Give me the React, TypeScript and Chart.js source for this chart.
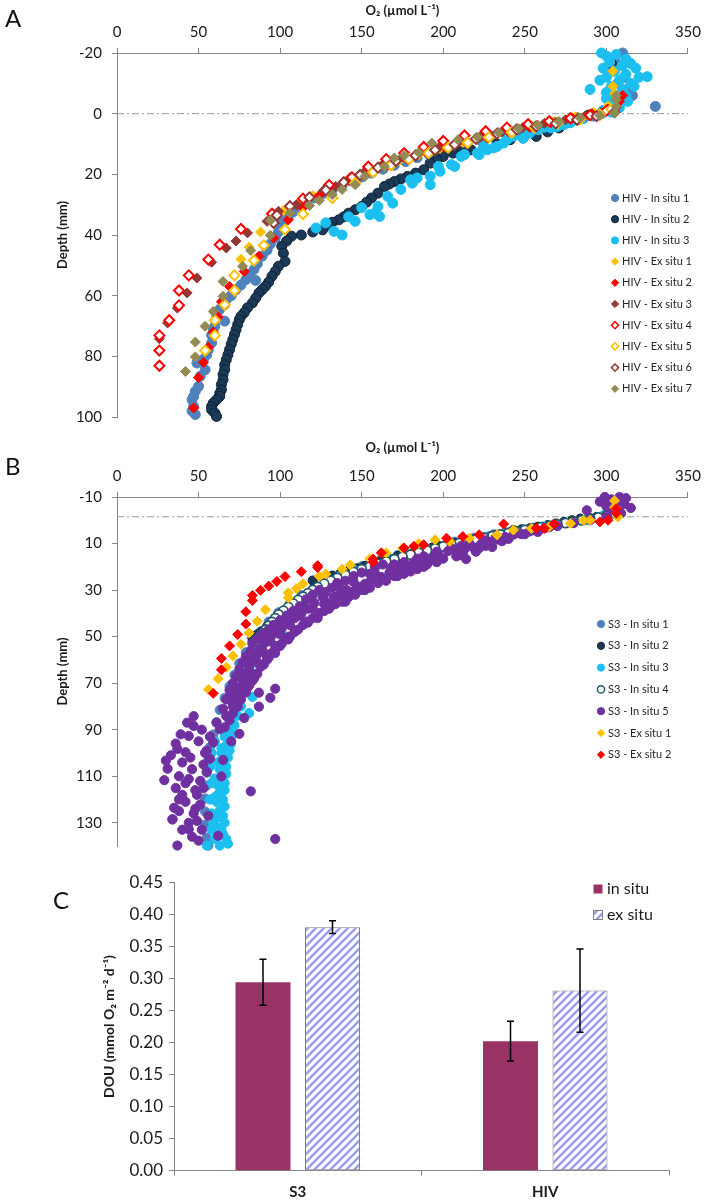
import React, { useEffect, useRef } from 'react';
import { Chart, registerables } from 'chart.js';

Chart.register(...registerables);

type P = [number, number];

// ---------- tick labels ----------
const o2Ticks = [0, 50, 100, 150, 200, 250, 300, 350];
const depthTicksA = [-20, 0, 20, 40, 60, 80, 100];
const depthTicksB = [-10, 10, 30, 50, 70, 90, 110, 130];
const douTicks = [0, 0.05, 0.1, 0.15, 0.2, 0.25, 0.3, 0.35, 0.4, 0.45];
const surfaceLineA = 0;
const surfaceLineB = -1.5;

// ---------- Panel A : HIV profiles [O2, depth] ----------
const hivNames = ['HIV - In situ 1', 'HIV - In situ 2', 'HIV - In situ 3', 'HIV - Ex situ 1', 'HIV - Ex situ 2', 'HIV - Ex situ 3', 'HIV - Ex situ 4', 'HIV - Ex situ 5', 'HIV - Ex situ 6', 'HIV - Ex situ 7'];

const hivInSitu1: P[] = [[310,-20],[305,-18],[309,-16],[304,-14],[311,-12],[307,-10],[313,-8],[316,-6],[306,-5],[330,-2.4],[302,-2],[297,0],[292,0.8],[286,1.5],[278,2.2],[270,3],[262,3.8],[254,4.6],[246,5.5],[238,6.5],[230,7.5],[222,8.6],[214,9.7],[206,10.9],[198,12.1],[191,13.3],[184,14.5],[177,15.8],[170,17],[163,18.3],[156,19.6],[150,20.9],[144,22.2],[138,23.6],[132,25],[126,26.4],[121,27.8],[116,29.3],[112,30.8],[108,32.4],[105,34],[102,35.6],[100,37.2],[99,39],[97,41],[94,43],[92,45],[89,47],[86,49.5],[84,51.4],[81,53],[79,54.7],[85,55],[76,56.5],[73,58],[70,60],[67,61.3],[66,63],[63,64.5],[61,66.3],[66,68.4],[60,70],[59,71.2],[58,73],[58,75.6],[56,77.8],[55,79.5],[53,81],[49,82.2],[54,84.4],[51,86.6],[50,89.9],[48,91.5],[47,93.2],[46,94.3],[47,96.5],[46,98],[48,99.2]];
const hivInSitu2: P[] = [[303,-16.6],[298,-1],[289,0.5],[282,1.4],[276,3],[271,4.7],[264,6],[257,7.5],[249,8],[241,8.6],[233,10],[225,11],[217,11.9],[211,12.5],[206,13],[200,14.1],[196,15.2],[192,16.3],[188,18.5],[183,19.6],[178,20.7],[174,21.5],[170,22.4],[167,23.2],[164,24],[160,26.2],[156,27.8],[153,29.2],[150,30.6],[146,31.7],[142,32.8],[139,34],[136,35],[132,35.8],[130,36.7],[126,38.3],[120,39],[113,40],[107,40.4],[104,42],[101,43.7],[102,46],[103,48.7],[99,50.3],[97,52],[95,53.6],[93,55.5],[91,56.9],[89,58],[87,59.1],[85,60.8],[83,62.4],[80,64],[78,65.6],[76,66.8],[75,67.9],[74,69.5],[73,71.2],[72,72.8],[71,74.5],[70,76],[69,77.8],[68,79.5],[67,81.1],[66,82.8],[66,84.4],[65,86],[65,87.7],[64,89.3],[64,91],[63,92.2],[63,93.2],[61,94.3],[59,95.4],[58,96.5],[58,97.6],[60,98.7],[61,99.8]];
const hivInSitu3: P[] = [[297,-20],[300,-19],[306,-19.5],[312,-18],[302,-17],[310,-16],[315,-16.5],[318,-15],[298,-15],[305,-14],[312,-13],[320,-12],[325,-12.2],[300,-12],[296,-11],[308,-11],[315,-10],[303,-9],[310,-8],[290,-8],[300,-7],[312,-6],[313,-4],[300,-5],[305,-3],[308,-2],[298,-1],[303,-0.5],[309,-6.5],[317,-9],[292,0.2],[286,1.5],[282,2],[278,3],[274,3.6],[270,4.2],[266,4.7],[262,4.5],[258,5.3],[253,6.4],[249,8.1],[243,7.5],[239,8.6],[237,9.7],[233,10.8],[231,11.3],[227,11.9],[225,10.8],[222,13.5],[221,13],[213,13.5],[211,14.1],[207,17.4],[205,16.8],[198,19],[197,17.4],[192,23.4],[192,20.6],[184,21.2],[181,22.9],[180,21.8],[174,25],[169,29.5],[166,27.3],[160,30.6],[161,33.9],[158,32.8],[155,33.3],[150,31],[146,35.5],[142,34],[138,40],[133,38.8],[128,36],[122,37.7]];
const hivExSitu1: P[] = [[304,-14],[304,-9],[305,-6.5],[301,-2.5],[292,-0.5],[281,1],[268,2.5],[254,4],[240,5.5],[226,7.5],[212,9.5],[198,11.5],[185,13.5],[173,15.5],[161,17.5],[149,20],[139,22.5],[129,24.5],[120,27],[111,29.5],[102,32],[95,35],[88,39],[81,44],[76,48]];
const hivExSitu2: P[] = [[310,-6],[308,-4],[301,-1.5],[291,0],[279,1.5],[266,3],[253,4.5],[240,6],[227,8],[214,9.5],[201,11],[190,13],[178,15],[166,17],[154,19.5],[142,22],[131,24.5],[124,27],[114,31],[105,35],[96,41],[87,47],[78,52],[69,57],[64,62],[62,67],[59,72],[56,77],[53,82],[50,87],[47,97]];
const hivExSitu3: P[] = [[306,-2],[297,-0.5],[287,0.8],[275,2],[262,3.2],[249,4.5],[236,6],[223,7.5],[210,9],[198,10.8],[186,12.5],[175,14.3],[164,16.2],[153,18.5],[143,21],[134,24],[127,25.1],[118,27.5],[110,30],[99,32.2],[92,35.5],[80,39.3],[73,42],[67,44.3],[58,49],[49,54.2],[43,59.1],[37,64.1],[31,69],[26,74.2]];
const hivExSitu4: P[] = [[300,-1],[290,0.5],[278,1.5],[265,2.5],[252,3.5],[239,4.6],[226,5.8],[213,7.2],[200,9],[188,11],[176,13],[165,15],[154,17.5],[144,21],[130,23.5],[114,28],[95,33],[76,38],[63,43.2],[56,48.1],[44,53.3],[38,58.3],[38,63.2],[32,68.1],[26,73.1],[26,78.1],[26,83.1]];
const hivExSitu5: P[] = [[303,-1.5],[296,0.3],[284,1.8],[270,3.2],[256,4.6],[242,6.2],[228,7.8],[215,9.6],[203,11.2],[191,13],[179,15],[168,17],[157,19.3],[146,22.9],[132,27.8],[114,33.1],[103,38.2],[90,43.4],[84,48.4],[72,53.3],[72,58.3],[66,63],[60,68.1],[60,73.1],[54,78.1]];
const hivExSitu6: P[] = [[305,-0.5],[294,0.8],[282,2],[269,3.2],[257,4.2],[245,5.2],[233,6.6],[220,8.3],[207,10.2],[195,12],[183,13.8],[171,15.6],[160,17.8],[149,20.2],[139,22.6],[128,25.2],[118,27.6],[106,30.5],[98,33.5],[96,36]];
const hivExSitu7: P[] = [[306,-6],[306,-4.6],[306,-2.4],[305,-0.2],[296,0.6],[284,1.4],[271,2.6],[258,3.8],[246,4.9],[234,6.2],[221,7.7],[209,8.6],[193,9.7],[185,12.8],[176,13.8],[170,14.6],[164,17.4],[152,20.7],[146,23.4],[138,25],[132,26.7],[124,28.6],[118,30.3],[106,32.8],[94,35.2],[94,40.1],[82,45.1],[77,50.3],[65,55.3],[65,60.2],[59,65.2],[54,70.1],[48,75.3],[48,80.2],[42,85]];

// ---------- Panel B : S3 profiles [O2, depth] ----------
const s3Names = ['S3 - In situ 1', 'S3 - In situ 2', 'S3 - In situ 3', 'S3 - In situ 4', 'S3 - In situ 5', 'S3 - Ex situ 1', 'S3 - Ex situ 2'];

const s3InSitu1: P[] = [[305,-8],[300,-3],[290,-1],[280,0.5],[268,1.8],[255,3.2],[243,4.6],[231,6],[219,7.5],[207,9.2],[195,11],[183,13],[172,15],[161,17.3],[150,19.8],[140,22.5],[130,25.5],[121,28.8],[113,32.2],[106,35.8],[99,39.6],[93,43.6],[88,47.8],[83,52.2],[79,56.8],[75,61.5],[72,66.4],[69,71.3],[66,76.4],[63,81.5],[61,86.8],[59,92.1],[57,97.5],[56,103],[55,108.5],[55,114],[54,119.6],[54,125.2],[54,130.8],[55,136.4],[56,139.8]];
const s3InSitu2: P[] = [[306,-4.2],[300,-2],[294,-1.4],[289,-1],[284,-0.7],[279,0],[274,0.7],[269,1.4],[264,2.1],[258,2.8],[253,3.5],[248,3.9],[243,4.2],[238,5.3],[233,6.3],[228,7],[223,7.7],[218,8.4],[213,9.1],[208,9.8],[203,10.5],[198,11.2],[193,11.9],[187,13],[182,14],[177,14.7],[172,15.4],[167,16.5],[162,17.5],[157,18.6],[152,19.6],[147,20.7],[142,21.7],[137,22.8],[132,23.8],[120,25.9],[130,25.3],[128,27.5],[126,28.4],[124,29.4],[121,30.5],[119,31.5],[117,32.6],[115,33.6],[113,35],[111,36.4],[107,37.8],[103,39.3],[101,40.3],[99,41.4],[97,42.5],[95,43.5],[92,45.6],[89,47.7],[86,49.1],[83,50.5]];
const s3InSitu3: P[] = [[303,-8],[298,-2],[287,0],[275,1.2],[262,2.6],[250,4],[238,5.6],[226,7.2],[214,8.8],[202,10.5],[190,12.4],[178,14.5],[167,16.7],[156,19],[146,21.5],[136,24.3],[127,27.3],[119,30.5],[112,34],[106,37.6],[100,41.5],[95,45.5],[100,48.5],[104,50],[90,51],[86,55],[87,61.7],[82,62],[78,67],[83,75.9],[81,82.9],[75,72],[72,78],[70,84],[68,89.8],[66,93],[67,96.8],[64,100],[65,103.8],[63,107],[63,110.8],[62,114],[62,117.8],[61,121],[63,124.8],[61,128],[61,131.8],[59,130.6],[65,134.9],[63,139.8],[55,139.8],[60,137],[58,126],[60,119],[60,111],[62,104],[64,98],[58,133],[80,70],[78,74],[76,80],[74,84],[72,88],[71,92],[70,96],[69,99],[68,102],[67,106],[67,109],[66,113],[66,116],[65,120],[66,123],[65,127],[66,130],[64,133],[67,137],[68,139],[60,95],[58,100],[57,106],[58,113],[57,120]];
const s3InSitu4: P[] = [[305,-3],[300,-2],[295,-1.2],[290,-0.6],[285,0],[280,0.6],[275,1.2],[270,1.8],[265,2.5],[260,3],[255,3.6],[250,4.2],[245,4.8],[240,5.4],[235,6.1],[230,6.8],[225,7.5],[220,8.2],[215,8.9],[210,9.7],[205,10.5],[200,11.3],[195,12.1],[190,13],[185,13.9],[180,14.8],[175,15.7],[170,16.7],[165,17.7],[160,18.8],[155,19.9],[150,21],[145,22.2],[140,23.5],[135,24.8],[131,26],[127,27.3],[123,28.7],[120,30],[117,31.4],[114,32.8],[111,34.3],[108,35.8],[105,37.3],[102,38.9],[99,40.5],[97,42.1],[95,43.7],[93,45.3],[91,47],[89,48.6],[87,50.3],[85,52]];
const s3InSitu5: P[] = [[299,-10],[303,-9],[308,-10],[312,-9.5],[306,-7.5],[311,-7],[315,-5.3],[300,-6],[296,-8],[288,-4.3],[304,-4.5],[309,-3],[300,-1.5],[290,0],[280,1.2],[270,2.5],[265,3],[262,3.5],[258,5],[253,4.8],[250,6],[248,6],[243,6.2],[240,8],[238,7.2],[236,9],[233,8.3],[230,11.5],[228,9.4],[226,11],[223,10.4],[222,12],[220,13.5],[218,11.5],[213,12.5],[214,16.7],[212,14],[210,15],[208,15.5],[207,12.8],[203,13.2],[200,16.5],[197,14.6],[196,18],[194,16],[192,17.4],[190,19],[188,20],[186,17.6],[184,21],[182,18.1],[180,22],[178,20.2],[176,23],[174,19.5],[172,20.9],[172,24],[170,24],[167,22.6],[165,26],[162,24.4],[160,27],[158,22.5],[156,25.2],[155,29],[152,27.3],[152,30],[150,30],[148,28.6],[146,32],[146,30.1],[142,33],[141,30.1],[140,33.6],[140,35],[138,35],[136,32.2],[134,36],[132,36.4],[130,38],[128,35],[127,39],[124,39.9],[123,42],[120,38],[120,42],[117,44],[116,43.5],[114,45],[112,41],[111,47],[109,47.7],[109,48],[106,45],[106,50],[104,51],[103,50.5],[101,53],[100,49],[100,54],[97,54],[97,57],[95,57],[94,52],[93,59],[92,60],[91,57.5],[90,62],[89,55.5],[88,63],[87,61.7],[86,66],[85,59],[84,68],[83,65.9],[83,69],[81,63],[81,71],[80,72],[79,70.1],[79,74],[77,68],[76,77],[75,74.4],[74,80],[73,72],[72,81],[71,78.6],[71,83],[69,76],[69,86],[67,84.2],[66,89],[65,81],[63,89.8],[61,87],[59,95.5],[57,93],[57,102.5],[55,99],[55,108.1],[53,105],[53,115.1],[51,112],[51,122.2],[49,118],[49,129.2],[47,126],[30,103.3],[31,106.8],[29,111.7],[37,98.3],[42,99.7],[44,92.7],[47,84.2],[47,88.4],[36,115.1],[35,123.6],[34,128.5],[40,104.1],[44,111.2],[38,110],[40,118],[42,121],[38,125],[44,130],[40,133],[46,136],[34,128.6],[37,139.8],[50,137.7],[44,132.8],[62,135.6],[36,96],[33,101],[39,92],[43,87],[50,95],[52,90],[46,107],[48,116],[42,113],[38,120],[52,133],[56,127],[48,124],[45,102],[54,100],[82,116.5],[64,110.1],[65,103],[75,91.8],[87,80.1],[87,74.1],[94,76.3],[97,72.4],[81,70.1],[105,51.2],[97,137],[70,95],[78,85],[158,20],[163,19],[168,20.5],[150,22.5],[155,23],[145,24],[140,26],[145,26.5],[135,27],[132,29],[137,29.5],[124,30],[128,31],[120,32],[126,33],[133,33],[116,34],[121,35.5],[127,36],[112,37],[117,38],[108,39],[113,40],[104,41],[109,42],[100,43],[105,44],[96,45],[101,46.5],[93,47],[98,48.5],[89,49],[94,50.5],[86,51],[91,52.5],[83,53],[88,55],[82,56],[86,57.5],[79,58.5],[83,60],[77,61],[81,62.5],[75,64],[79,66],[73,67],[77,69],[71,70],[75,72.5],[69,73],[73,76],[67,77],[71,80],[245,5.5],[256,4.3],[232,7.5],[226,8.6],[216,10],[211,11],[205,12],[196,13.5],[188,15.5],[184,16.5],[176,18],[170,19]];
const s3ExSitu1: P[] = [[305,-8.4],[305,-5.6],[307,-1.4],[290,0],[286,0],[278,1.4],[265,2.8],[254,3.5],[243,4.2],[233,6.3],[216,7.7],[204,9.1],[195,8.4],[185,10],[175,12],[165,14],[155,16.5],[143,19.2],[138,21],[128,23.1],[124,24.1],[114,27.3],[110,29.4],[105,31.2],[105,33.3],[91,38.5],[86,43.4],[81,48.4],[76,53.3],[71,58.3],[67,63.2],[62,68.1],[56,72.7]];
const s3ExSitu2: P[] = [[306,-5],[306,-3],[301,0],[296,0.7],[268,1.6],[262,3.4],[257,3.4],[237,1.6],[222,6.2],[212,7],[202,7.7],[188,10.5],[182,11.2],[176,11.9],[162,14],[157,16.7],[157,18],[123,19.5],[123,20.3],[113,22.1],[103,24.2],[98,26.3],[93,28.3],[88,30.1],[83,32.3],[83,34.5],[79,39.3],[79,44.6],[74,49.1],[69,54],[64,59.4],[64,64.3],[59,74.4]];

// ---------- Panel C : DOU ----------
const sites = ['S3', 'HIV'];
const inSituDOU = [0.294, 0.202];
const inSituErr = [0.036, 0.031];
const exSituDOU = [0.38, 0.281];
const exSituErr = [0.01, 0.065];

// ---------- styles ----------
type Style = { shape: 'circle' | 'rectRot'; fill: string; stroke: string; bw: number };
const hivStyles: Style[] = [
  { shape: 'circle', fill: '#4F81BD', stroke: '#4F81BD', bw: 1 },
  { shape: 'circle', fill: '#1B3A57', stroke: '#0D2236', bw: 1 },
  { shape: 'circle', fill: '#1CC0F0', stroke: '#1CC0F0', bw: 1 },
  { shape: 'rectRot', fill: '#FFC000', stroke: '#FFC000', bw: 1 },
  { shape: 'rectRot', fill: '#FF0000', stroke: '#FF0000', bw: 1 },
  { shape: 'rectRot', fill: '#953735', stroke: '#953735', bw: 1 },
  { shape: 'rectRot', fill: '#FFFFFF', stroke: '#FF0000', bw: 2 },
  { shape: 'rectRot', fill: '#FFFFFF', stroke: '#FFC000', bw: 2 },
  { shape: 'rectRot', fill: '#FFFFFF', stroke: '#953735', bw: 2 },
  { shape: 'rectRot', fill: '#948A54', stroke: '#948A54', bw: 1 },
];
const s3Styles: Style[] = [
  { shape: 'circle', fill: '#4F81BD', stroke: '#4F81BD', bw: 1 },
  { shape: 'circle', fill: '#1B3A57', stroke: '#0D2236', bw: 1 },
  { shape: 'circle', fill: '#1CC0F0', stroke: '#1CC0F0', bw: 1 },
  { shape: 'circle', fill: '#FFFFFF', stroke: '#215868', bw: 1.8 },
  { shape: 'circle', fill: '#7030A0', stroke: '#7030A0', bw: 1 },
  { shape: 'rectRot', fill: '#FFC000', stroke: '#FFC000', bw: 1 },
  { shape: 'rectRot', fill: '#FF0000', stroke: '#FF0000', bw: 1 },
];

const FONT = 'Lato, "Open Sans", sans-serif';
const AXIS = '#868686';
const TXT = '#1a1a1a';

function drawMarker(ctx: CanvasRenderingContext2D, s: Style, x: number, y: number, r: number) {
  ctx.beginPath();
  if (s.shape === 'circle') ctx.arc(x, y, r, 0, Math.PI * 2);
  else { ctx.moveTo(x - r, y); ctx.lineTo(x, y - r); ctx.lineTo(x + r, y); ctx.lineTo(x, y + r); ctx.closePath(); }
  ctx.fillStyle = s.fill; ctx.fill();
  ctx.lineWidth = s.bw; ctx.strokeStyle = s.stroke; ctx.stroke();
}

function pointLegend(names: string[], styles: Style[], lx: number, tx: number, y0: number, dy: number) {
  return {
    id: 'pointLegend',
    afterDraw(chart: any) {
      const ctx = chart.ctx as CanvasRenderingContext2D;
      ctx.save();
      names.forEach((n, i) => {
        const y = y0 + i * dy;
        drawMarker(ctx, { ...styles[i], bw: Math.min(styles[i].bw, 1.5) }, lx, y, 3.6);
        ctx.font = `11px ${FONT}`;
        ctx.fillStyle = '#262626';
        ctx.textBaseline = 'middle';
        ctx.textAlign = 'left';
        ctx.fillText(n, tx, y);
      });
      ctx.restore();
    },
  };
}

function refLine(value: number) {
  return {
    id: 'refLine',
    beforeDatasetsDraw(chart: any) {
      const { ctx, chartArea } = chart;
      const y = chart.scales.y.getPixelForValue(value);
      ctx.save();
      ctx.strokeStyle = '#9A9A9A';
      ctx.lineWidth = 1;
      ctx.setLineDash([7, 3, 2, 3]);
      ctx.beginPath();
      ctx.moveTo(chartArea.left, y);
      ctx.lineTo(chartArea.right, y);
      ctx.stroke();
      ctx.restore();
    },
  };
}

function makeScatter(canvas: HTMLCanvasElement, series: P[][], names: string[], styles: Style[], yTicks: number[], yMin: number, yMax: number, radius: number, line: number, titlePad: number, axisH: number, legend: any) {
  const n = series.length;
  return new Chart(canvas, {
    type: 'scatter',
    data: {
      datasets: series.map((s, i) => ({
        label: names[i],
        data: s.map(([x, y]) => ({ x, y })),
        backgroundColor: styles[i].fill,
        borderColor: styles[i].stroke,
        borderWidth: styles[i].bw,
        pointStyle: styles[i].shape,
        pointRadius: styles[i].shape === 'circle' ? radius : 5,
        order: n - i,
        clip: false,
      })),
    },
    options: {
      responsive: false,
      animation: false,
      events: [],
      layout: { padding: { top: 0, right: 16, bottom: canvas.height - 417, left: 0 } },
      plugins: { legend: { display: false }, tooltip: { enabled: false } },
      scales: {
        x: {
          type: 'linear',
          position: 'top',
          min: 0,
          max: 350,
          afterBuildTicks: (s: any) => { s.ticks = o2Ticks.map((v) => ({ value: v })); },
          afterFit: (s: any) => { s.height = axisH; },
          grid: { drawOnChartArea: false, drawTicks: true, tickLength: 5, color: AXIS },
          border: { color: AXIS, width: 1 },
          ticks: { font: { family: FONT, size: 15 }, color: TXT, padding: 7, maxRotation: 0 },
          title: { display: true, text: 'O₂ (µmol L⁻¹)', font: { family: FONT, size: 13, weight: 'bold' }, color: TXT, padding: { top: titlePad, bottom: 0 } },
        },
        y: {
          type: 'linear',
          reverse: true,
          min: yMin,
          max: yMax,
          afterBuildTicks: (s: any) => { s.ticks = yTicks.map((v) => ({ value: v })); },
          afterFit: (s: any) => { s.width = 117; },
          grid: { drawOnChartArea: false, drawTicks: true, tickLength: 5, color: AXIS },
          border: { color: AXIS, width: 1 },
          ticks: { font: { family: FONT, size: 15 }, color: TXT, padding: 10 },
          title: { display: true, text: 'Depth (mm)', font: { family: FONT, size: 13, weight: 'bold' }, color: TXT, padding: { top: 55, bottom: 0 } },
        },
      },
    } as any,
    plugins: [refLine(line), legend],
  });
}

function makeHatch(): CanvasPattern | string {
  const c = document.createElement('canvas');
  c.width = 8; c.height = 8;
  const g = c.getContext('2d');
  if (!g) return '#9999FF';
  g.fillStyle = '#FFFFFF';
  g.fillRect(0, 0, 8, 8);
  g.strokeStyle = '#9B9BF2';
  g.lineWidth = 2.4;
  g.beginPath();
  g.moveTo(-2, 10); g.lineTo(10, -2);
  g.moveTo(-4, 4); g.lineTo(4, -4);
  g.moveTo(4, 12); g.lineTo(12, 4);
  g.stroke();
  const p = g.createPattern(c, 'repeat');
  return p || '#9999FF';
}

const errorBars = {
  id: 'errorBars',
  afterDatasetsDraw(chart: any) {
    const { ctx } = chart;
    const errs = [inSituErr, exSituErr];
    ctx.save();
    ctx.strokeStyle = '#000';
    ctx.lineWidth = 1.5;
    chart.data.datasets.forEach((ds: any, i: number) => {
      const meta = chart.getDatasetMeta(i);
      meta.data.forEach((bar: any, j: number) => {
        const v = ds.data[j];
        const e = errs[i][j];
        const y1 = chart.scales.y.getPixelForValue(v + e);
        const y2 = chart.scales.y.getPixelForValue(v - e);
        ctx.beginPath();
        ctx.moveTo(bar.x, y1); ctx.lineTo(bar.x, y2);
        ctx.moveTo(bar.x - 3.5, y1); ctx.lineTo(bar.x + 3.5, y1);
        ctx.moveTo(bar.x - 3.5, y2); ctx.lineTo(bar.x + 3.5, y2);
        ctx.stroke();
      });
    });
    ctx.restore();
  },
};

function barLegend(hatch: any) {
  return {
    id: 'barLegend',
    afterDraw(chart: any) {
      const ctx = chart.ctx as CanvasRenderingContext2D;
      const items = [
        { label: 'in situ', fill: '#993366', stroke: null as string | null },
        { label: 'ex situ', fill: hatch, stroke: '#808080' },
      ];
      ctx.save();
      items.forEach((it, i) => {
        const y = 29 + i * 26;
        ctx.fillStyle = it.fill;
        ctx.fillRect(593.5, y - 4.5, 9, 9);
        if (it.stroke) { ctx.strokeStyle = it.stroke; ctx.lineWidth = 1; ctx.strokeRect(593.5, y - 4.5, 9, 9); }
        ctx.font = `16px ${FONT}`;
        ctx.fillStyle = TXT;
        ctx.textBaseline = 'middle';
        ctx.textAlign = 'left';
        ctx.fillText(it.label, 607, y);
      });
      ctx.restore();
    },
  };
}

function makeBars(canvas: HTMLCanvasElement) {
  const hatch = makeHatch();
  return new Chart(canvas, {
    type: 'bar',
    data: {
      labels: sites,
      datasets: [
        { label: 'in situ', data: inSituDOU, backgroundColor: '#993366', borderWidth: 0, categoryPercentage: 0.5616, barPercentage: 0.791 },
        { label: 'ex situ', data: exSituDOU, backgroundColor: hatch, borderColor: '#808080', borderWidth: 1, borderSkipped: false, categoryPercentage: 0.5616, barPercentage: 0.791 },
      ],
    },
    options: {
      responsive: false,
      animation: false,
      events: [],
      layout: { padding: { top: 22.3, right: 39, bottom: 0, left: 0 } },
      plugins: { legend: { display: false }, tooltip: { enabled: false } },
      scales: {
        x: {
          afterFit: (s: any) => { s.height = 29.3; },
          grid: { drawOnChartArea: false, drawTicks: true, tickLength: 5, color: AXIS, offset: true },
          border: { color: AXIS, width: 1 },
          ticks: { font: { family: FONT, size: 15, weight: 'bold' }, color: TXT, padding: 7 },
        },
        y: {
          min: 0,
          max: 0.45,
          afterBuildTicks: (s: any) => { s.ticks = douTicks.map((v) => ({ value: v })); },
          afterFit: (s: any) => { s.width = 174; },
          grid: { drawOnChartArea: false, drawTicks: true, tickLength: 5, color: AXIS },
          border: { color: AXIS, width: 1 },
          ticks: { font: { family: FONT, size: 17 }, color: TXT, padding: 6, callback: (v: any) => Number(v).toFixed(2) },
          title: { display: true, text: 'DOU (mmol O₂ m⁻² d⁻¹)', font: { family: FONT, size: 14, weight: 'bold' }, color: TXT, padding: { top: 101, bottom: 0 } },
        },
      },
    } as any,
    plugins: [errorBars, barLegend(hatch)],
  });
}

const letter = (t: string, left: number, top: number) => (
  <div style={{ position: 'absolute', left, top, fontFamily: FONT, fontSize: 24, lineHeight: '24px', color: '#111' }}>{t}</div>
);

export default function App() {
  const refA = useRef<HTMLCanvasElement>(null);
  const refB = useRef<HTMLCanvasElement>(null);
  const refC = useRef<HTMLCanvasElement>(null);

  useEffect(() => {
    Chart.defaults.font.family = FONT;
    const a = makeScatter(refA.current!, [hivInSitu1, hivInSitu2, hivInSitu3, hivExSitu1, hivExSitu2, hivExSitu3, hivExSitu4, hivExSitu5, hivExSitu6, hivExSitu7], hivNames, hivStyles, depthTicksA, -20, 100, 5, surfaceLineA, 3.2, 53, pointLegend(hivNames, hivStyles, 615, 622, 198, 21.2));
    const b = makeScatter(refB.current!, [s3InSitu1, s3InSitu2, s3InSitu3, s3InSitu4, s3InSitu5, s3ExSitu1, s3ExSitu2], s3Names, s3Styles, depthTicksB, -10, 140, 4.6, surfaceLineB, 5.2, 62, pointLegend(s3Names, s3Styles, 601, 608, 189, 21.8));
    const c = makeBars(refC.current!);
    return () => { a.destroy(); b.destroy(); c.destroy(); };
  }, []);

  return (
    <div style={{ position: 'absolute', left: 0, top: 0, width: 708, height: 1200, background: '#fff', overflow: 'hidden' }}>
      <canvas ref={refA} width={708} height={440} style={{ position: 'absolute', left: 0, top: 0, width: 708, height: 440 }} />
      <canvas ref={refB} width={708} height={430} style={{ position: 'absolute', left: 0, top: 435, width: 708, height: 430 }} />
      <canvas ref={refC} width={708} height={340} style={{ position: 'absolute', left: 0, top: 860, width: 708, height: 340 }} />
      {letter('A', 5, 6)}
      {letter('B', 5, 454)}
      {letter('C', 53, 888)}
    </div>
  );
}
